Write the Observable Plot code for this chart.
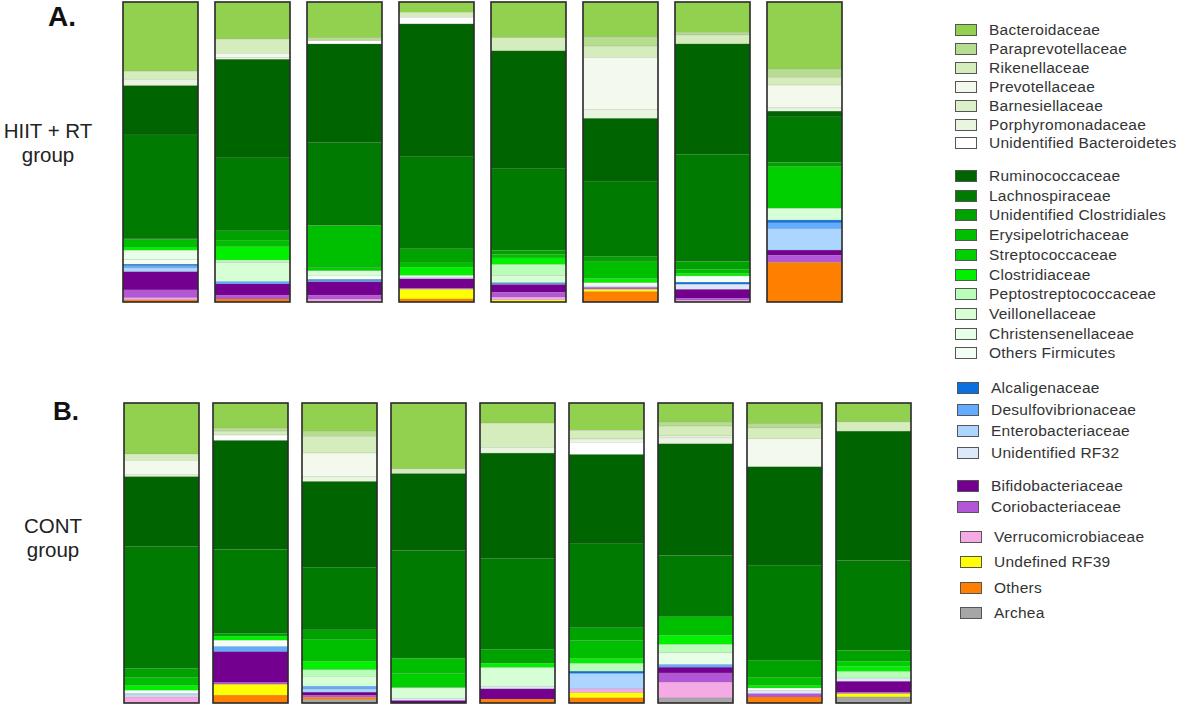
<!DOCTYPE html>
<html><head><meta charset="utf-8">
<script src="https://cdn.jsdelivr.net/npm/d3@7"></script>
<script src="https://cdn.jsdelivr.net/npm/@observablehq/plot@0.6"></script>
<style>
body{margin:0;background:#fff;font-family:"Liberation Sans",Arial,sans-serif;}
#wrap{position:relative;width:1192px;height:706px;overflow:hidden;background:#fff;}
.abs{position:absolute;white-space:nowrap;}
.panel{position:absolute;left:0;}
.lab{position:absolute;color:#222;font-size:20.5px;text-align:center;line-height:24px;}
.leg{position:absolute;height:20px;display:flex;align-items:center;font-size:15.5px;letter-spacing:0.25px;color:#333;white-space:nowrap;}
.sw{display:inline-block;width:20px;height:10px;border:1px solid #555;margin-right:12px;}
</style></head><body><div id="wrap"></div>
<script>
// ---------- data ----------
const families = ["Bacteroidaceae","Paraprevotellaceae","Rikenellaceae","Prevotellaceae","Barnesiellaceae","Porphyromonadaceae","Unidentified Bacteroidetes","Ruminococcaceae","Lachnospiraceae","Unidentified Clostridiales","Erysipelotrichaceae","Streptococcaceae","Clostridiaceae","Peptostreptococcaceae","Veillonellaceae","Christensenellaceae","Others Firmicutes","Alcaligenaceae","Desulfovibrionaceae","Enterobacteriaceae","Unidentified RF32","Bifidobacteriaceae","Coriobacteriaceae","Verrucomicrobiaceae","Undefined RF39","Others","Archea"];
const colors = ["#92d050","#b5dc8f","#d5ecbc","#f3f9ec","#dbefc9","#e9f5de","#ffffff","#006400","#007a00","#00a200","#00be00","#00d000","#00f000","#b9fdb9","#d6ffd6","#e6ffe6","#f2fff2","#0a70e0","#62acff","#acd6ff","#dde9f8","#74008f","#b457d6","#f5a9e5","#ffff00","#ff7f00","#a6a6a6"];
const legendGroups = [7, 10, 4, 2, 4];

const samplesA = ["A1","A2","A3","A4","A5","A6","A7","A8"];
const samplesB = ["B1","B2","B3","B4","B5","B6","B7","B8","B9"];

const A1 = [["Bacteroidaceae",22.9],["Rikenellaceae",2.7],["Porphyromonadaceae",2.1],["Ruminococcaceae",16.3],["Lachnospiraceae",34.4],["Unidentified Clostridiales",0.3],["Erysipelotrichaceae",2.4],["Clostridiaceae",1.1],["Christensenellaceae",3.1],["Others Firmicutes",1.5],["Alcaligenaceae",0.5],["Desulfovibrionaceae",0.7],["Enterobacteriaceae",1.3],["Bifidobacteriaceae",6.0],["Coriobacteriaceae",2.6],["Verrucomicrobiaceae",0.7],["Others",0.7]];
const A2 = [["Bacteroidaceae",12.3],["Rikenellaceae",4.8],["Prevotellaceae",1.3],["Porphyromonadaceae",0.7],["Ruminococcaceae",32.8],["Lachnospiraceae",24.3],["Unidentified Clostridiales",3.1],["Erysipelotrichaceae",2.2],["Clostridiaceae",4.4],["Peptostreptococcaceae",0.9],["Veillonellaceae",6.3],["Desulfovibrionaceae",0.8],["Bifidobacteriaceae",3.7],["Coriobacteriaceae",1.3],["Others",1.0]];
const A3 = [["Bacteroidaceae",11.9],["Paraprevotellaceae",1.0],["Unidentified Bacteroidetes",1.1],["Ruminococcaceae",32.9],["Lachnospiraceae",27.6],["Erysipelotrichaceae",14.1],["Streptococcaceae",1.0],["Veillonellaceae",1.5],["Others Firmicutes",1.4],["Alcaligenaceae",0.4],["Desulfovibrionaceae",0.4],["Bifidobacteriaceae",4.4],["Coriobacteriaceae",1.4],["Verrucomicrobiaceae",0.9]];
const A4 = [["Bacteroidaceae",3.4],["Rikenellaceae",1.7],["Unidentified Bacteroidetes",2.2],["Ruminococcaceae",44.2],["Lachnospiraceae",30.6],["Unidentified Clostridiales",4.4],["Erysipelotrichaceae",1.7],["Clostridiaceae",2.8],["Others Firmicutes",0.6],["Unidentified RF32",0.5],["Bifidobacteriaceae",3.1],["Coriobacteriaceae",0.4],["Undefined RF39",3.2],["Others",1.0]];
const A5 = [["Bacteroidaceae",11.9],["Rikenellaceae",4.4],["Ruminococcaceae",39.3],["Lachnospiraceae",27.2],["Unidentified Clostridiales",1.4],["Erysipelotrichaceae",1.1],["Clostridiaceae",2.2],["Peptostreptococcaceae",3.7],["Veillonellaceae",2.4],["Alcaligenaceae",0.3],["Desulfovibrionaceae",0.3],["Bifidobacteriaceae",2.6],["Coriobacteriaceae",1.6],["Verrucomicrobiaceae",0.9],["Undefined RF39",0.7]];
const A6 = [["Bacteroidaceae",11.6],["Paraprevotellaceae",3.1],["Rikenellaceae",3.8],["Prevotellaceae",17.3],["Porphyromonadaceae",3.0],["Ruminococcaceae",20.9],["Lachnospiraceae",25.2],["Unidentified Clostridiales",1.7],["Erysipelotrichaceae",5.6],["Clostridiaceae",1.4],["Others Firmicutes",1.1],["Unidentified RF32",0.4],["Coriobacteriaceae",0.7],["Undefined RF39",0.8],["Others",3.4]];
const A7 = [["Bacteroidaceae",10.1],["Paraprevotellaceae",0.9],["Rikenellaceae",3.0],["Ruminococcaceae",36.8],["Lachnospiraceae",35.8],["Unidentified Clostridiales",2.6],["Erysipelotrichaceae",1.3],["Clostridiaceae",0.9],["Others Firmicutes",2.1],["Alcaligenaceae",0.7],["Unidentified RF32",1.7],["Bifidobacteriaceae",3.0],["Coriobacteriaceae",0.6],["Verrucomicrobiaceae",0.6]];
const A8 = [["Bacteroidaceae",22.3],["Paraprevotellaceae",2.8],["Rikenellaceae",2.6],["Prevotellaceae",7.6],["Porphyromonadaceae",1.1],["Ruminococcaceae",1.9],["Lachnospiraceae",15.2],["Unidentified Clostridiales",1.4],["Streptococcaceae",13.9],["Veillonellaceae",3.9],["Alcaligenaceae",0.9],["Desulfovibrionaceae",2.0],["Enterobacteriaceae",7.1],["Bifidobacteriaceae",1.7],["Coriobacteriaceae",2.4],["Others",13.2]];

const B1 = [["Bacteroidaceae",17.0],["Rikenellaceae",2.1],["Prevotellaceae",4.9],["Porphyromonadaceae",0.6],["Ruminococcaceae",23.2],["Lachnospiraceae",40.8],["Unidentified Clostridiales",2.9],["Erysipelotrichaceae",2.8],["Clostridiaceae",1.6],["Others Firmicutes",1.1],["Enterobacteriaceae",0.5],["Unidentified RF32",0.6],["Verrucomicrobiaceae",2.0]];
const B2 = [["Bacteroidaceae",8.3],["Paraprevotellaceae",1.1],["Rikenellaceae",1.3],["Unidentified Bacteroidetes",1.8],["Ruminococcaceae",36.3],["Lachnospiraceae",28.1],["Unidentified Clostridiales",0.8],["Clostridiaceae",1.4],["Others Firmicutes",2.1],["Desulfovibrionaceae",1.7],["Bifidobacteriaceae",10.3],["Coriobacteriaceae",0.6],["Undefined RF39",3.6],["Others",2.6]];
const B3 = [["Bacteroidaceae",9.4],["Paraprevotellaceae",1.7],["Rikenellaceae",5.6],["Prevotellaceae",7.8],["Porphyromonadaceae",1.7],["Ruminococcaceae",28.6],["Lachnospiraceae",20.9],["Unidentified Clostridiales",3.1],["Erysipelotrichaceae",7.4],["Clostridiaceae",2.8],["Peptostreptococcaceae",2.2],["Veillonellaceae",3.3],["Desulfovibrionaceae",1.0],["Enterobacteriaceae",1.0],["Bifidobacteriaceae",1.1],["Coriobacteriaceae",0.6],["Others",0.8],["Archea",1.1]];
const B4 = [["Bacteroidaceae",22.0],["Rikenellaceae",1.6],["Ruminococcaceae",25.7],["Lachnospiraceae",36.0],["Erysipelotrichaceae",5.0],["Streptococcaceae",4.8],["Veillonellaceae",3.6],["Unidentified RF32",0.7],["Bifidobacteriaceae",0.8]];
const B5 = [["Bacteroidaceae",6.7],["Rikenellaceae",8.1],["Porphyromonadaceae",1.9],["Ruminococcaceae",35.0],["Lachnospiraceae",30.3],["Unidentified Clostridiales",4.7],["Clostridiaceae",1.4],["Veillonellaceae",6.3],["Unidentified RF32",0.8],["Bifidobacteriaceae",3.4],["Others",1.3]];
const B6 = [["Bacteroidaceae",9.1],["Rikenellaceae",2.9],["Porphyromonadaceae",1.1],["Unidentified Bacteroidetes",4.1],["Ruminococcaceae",29.8],["Lachnospiraceae",28.0],["Unidentified Clostridiales",4.2],["Erysipelotrichaceae",6.1],["Clostridiaceae",1.6],["Peptostreptococcaceae",2.6],["Alcaligenaceae",0.8],["Enterobacteriaceae",5.1],["Verrucomicrobiaceae",1.3],["Undefined RF39",1.7],["Others",1.7]];
const B7 = [["Bacteroidaceae",6.3],["Paraprevotellaceae",1.4],["Rikenellaceae",3.3],["Prevotellaceae",0.6],["Porphyromonadaceae",2.0],["Ruminococcaceae",37.2],["Lachnospiraceae",20.4],["Erysipelotrichaceae",6.2],["Clostridiaceae",3.0],["Peptostreptococcaceae",2.8],["Christensenellaceae",3.9],["Desulfovibrionaceae",0.9],["Bifidobacteriaceae",1.9],["Coriobacteriaceae",3.1],["Verrucomicrobiaceae",5.2],["Archea",1.7]];
const B8 = [["Bacteroidaceae",6.9],["Paraprevotellaceae",1.4],["Rikenellaceae",3.6],["Prevotellaceae",9.4],["Ruminococcaceae",32.8],["Lachnospiraceae",31.7],["Unidentified Clostridiales",5.7],["Erysipelotrichaceae",2.8],["Clostridiaceae",0.8],["Others Firmicutes",0.9],["Unidentified RF32",1.0],["Coriobacteriaceae",1.1],["Others",2.0]];
const B9 = [["Bacteroidaceae",6.3],["Rikenellaceae",3.1],["Ruminococcaceae",43.1],["Lachnospiraceae",30.0],["Unidentified Clostridiales",3.6],["Streptococcaceae",1.7],["Clostridiaceae",1.7],["Peptostreptococcaceae",2.2],["Unidentified RF32",1.1],["Bifidobacteriaceae",3.7],["Coriobacteriaceae",0.4],["Undefined RF39",1.1],["Archea",2.0]];

const barsA = [A1,A2,A3,A4,A5,A6,A7,A8];
const barsB = [B1,B2,B3,B4,B5,B6,B7,B8,B9];

// ---------- build ----------
const wrap = document.getElementById("wrap");
const stackOrder = families.slice().reverse(); // bottom -> top
const toRows = (samples, bars) => bars.flatMap((segs, i) => segs.map(([family, value]) => ({sample: samples[i], family, value})));

function panel(samples, bars, xRange, pad) {
  return Plot.plot({
    width: 940, height: 304,
    style: {background: "transparent", overflow: "visible"},
    x: {domain: samples, range: xRange, paddingInner: pad, paddingOuter: pad, axis: null},
    y: {domain: [0, 1], range: [302, 2], axis: null},
    color: {domain: families, range: colors},
    marks: [
      Plot.barY(toRows(samples, bars), {x: "sample", y: "value", fill: "family", z: "family",
        order: stackOrder, offset: "normalize", stroke: "#7a7a7a", strokeOpacity: 0.3, strokeWidth: 0.5}),
      Plot.barY(samples, {x: d => d, y1: 0, y2: 1, fill: "none", stroke: "#2b2b2b", strokeWidth: 1.6})
    ]
  });
}

const pA = panel(samplesA, barsA, [104.7, 860.4], 0.187);
pA.classList.add("panel"); pA.style.top = "0px";
wrap.appendChild(pA);
const pB = panel(samplesB, barsB, [107.2, 927.2], 0.162);
pB.classList.add("panel"); pB.style.top = "401px";
wrap.appendChild(pB);

function addText(html, css, cls) {
  const d = document.createElement("div");
  d.className = cls || "abs";
  d.innerHTML = html;
  Object.assign(d.style, css);
  wrap.appendChild(d);
  return d;
}
addText("A.", {left: "48px", top: "1px", fontSize: "28px", fontWeight: "bold", color: "#111", lineHeight: "32px"});
addText("B.", {left: "53px", top: "396px", fontSize: "26px", fontWeight: "bold", color: "#111", lineHeight: "30px"});
addText("HIIT + RT<br>group", {left: "-2px", width: "100px", top: "119px"}, "lab");
addText("CONT<br>group", {left: "3px", width: "100px", top: "514px"}, "lab");

// legend
const groupStart = [30, 176, 388, 486, 537];
const groupStep = [18.9, 19.7, 21.7, 21, 25.3];
const groupX = [955, 955, 957, 957, 960];
let k = 0;
legendGroups.forEach((n, g) => {
  for (let j = 0; j < n; j++, k++) {
    addText(`<span class="sw" style="background:${colors[k]}"></span>${families[k]}`,
      {left: groupX[g] + "px", top: (groupStart[g] + j * groupStep[g] - 10) + "px"}, "leg");
  }
});
</script>
</body></html>
